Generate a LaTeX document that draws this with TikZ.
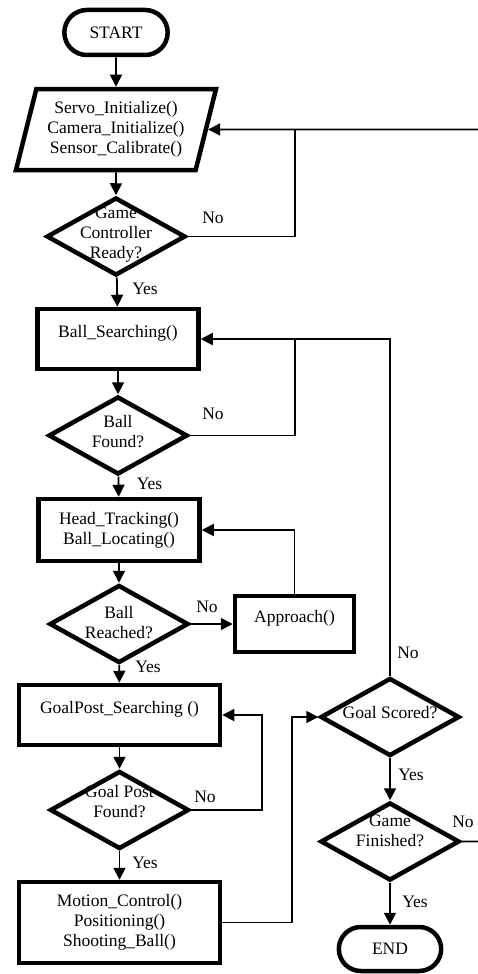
\documentclass[tikz,border=0pt]{standalone}
\usepackage{fontspec}
\setmainfont{Liberation Serif}
\usetikzlibrary{shapes.geometric,shapes.misc,arrows.meta}
\begin{document}
\begin{tikzpicture}[x=1pt,y=-1pt,
  font=\fontsize{17.5}{20}\selectfont,
  term/.style={rounded rectangle, draw=black, line width=4.5pt, minimum width=110pt, minimum height=45pt},
  io/.style={trapezium, trapezium left angle=70, trapezium right angle=110, trapezium stretches body, draw=black, line width=4.5pt, minimum width=200pt, minimum height=81pt, align=center, inner sep=0pt},
  proc/.style={rectangle, draw=black, line width=4.5pt, align=center},
  procup/.style={proc, text depth=16pt},
  decide/.style={diamond, draw=black, line width=4.5pt, inner sep=0pt, minimum width=139pt, minimum height=78pt},
  lbl/.style={align=center, inner sep=0pt},
  wire/.style={draw=black, line width=1.8pt},
  wirearr/.style={wire, -{Triangle[length=12pt,width=12pt]}}]
\useasboundingbox (0,0) rectangle (478,974);
\node [term] (start) at (116,32.5) {START};
\node [io] (init) at (116,129.5) {Servo\_Initialize()\\Camera\_Initialize()\\Sensor\_Calibrate()};
\node [decide, label={[lbl,yshift=2pt]center:Game\\Controller\\Ready?}] (ready) at (116,236.5) {};
\node [procup, minimum width=161pt, minimum height=60pt] (bsearch) at (118,339) {Ball\_Searching()};
\node [decide, label={[lbl,yshift=4pt]center:Ball\\Found?}] (bfound) at (118,435.5) {};
\node [proc, minimum width=161pt, minimum height=62pt] (htrack) at (119,530) {Head\_Tracking()\\Ball\_Locating()};
\node [decide, label={[lbl,yshift=1pt]center:Ball\\Reached?}] (reached) at (119,624) {};
\node [procup, minimum width=119pt, minimum height=56pt] (appr) at (294.5,624) {Approach()};
\node [procup, minimum width=201pt, minimum height=60pt] (gpsearch) at (119.5,715) {GoalPost\_Searching ()};
\node [decide, label={[lbl,yshift=8pt]center:Goal Post\\Found?}] (gpfound) at (119.5,810) {};
\node [proc, minimum width=201pt, minimum height=81pt] (motion) at (119.5,922.5) {Motion\_Control()\\Positioning()\\Shooting\_Ball()};
\node [decide, label={[lbl,yshift=4pt]center:Goal Scored?}] (scored) at (390,717) {};
\node [decide, label={[lbl,yshift=11pt]center:Game\\Finished?}] (fin) at (390,841.5) {};
\node [term, minimum width=109pt, minimum height=44pt] (end) at (390,949) {END};
\node [lbl] (no1) at (213,218) {No};
\node [lbl] (yes1) at (145,289) {Yes};
\node [lbl] (no2) at (213,414) {No};
\node [lbl] (yes2) at (149.5,484) {Yes};
\node [lbl] (no3) at (207,607) {No};
\node [lbl] (yes3) at (148,667) {Yes};
\node [lbl] (no4) at (205,797) {No};
\node [lbl] (yes4) at (145,863) {Yes};
\node [lbl] (no5) at (408,653) {No};
\node [lbl] (yes5) at (411,775) {Yes};
\node [lbl] (no6) at (463,822) {No};
\node [lbl] (yes6) at (415,902) {Yes};
\coordinate (ret1) at (295,129.5);
\coordinate (ret2) at (295,339);
\coordinate (ret3) at (262,715);
\coordinate (ret4) at (292,717);
\coordinate (outer) at (486,129.5);
\draw [wirearr] (start) -- (init);
\draw [wirearr] (init) -- (ready);
\draw [wirearr] (ready) -- (bsearch);
\draw [wirearr] (bsearch) -- (bfound);
\draw [wirearr] (bfound) -- (htrack);
\draw [wirearr] (htrack) -- (reached);
\draw [wirearr] (reached) -- (gpsearch);
\draw [wirearr] (gpsearch) -- (gpfound);
\draw [wirearr] (gpfound) -- (motion);
\draw [wirearr] (scored) -- (fin);
\draw [wirearr] (fin) -- (end);
\draw [wirearr] (reached) -- (appr);
\draw [wire] (ready.east) -| (ret1);
\draw [wire] (bfound.east) -| (ret2);
\draw [wirearr] (appr.north) |- (htrack.east);
\draw [wirearr] (gpfound.east) -| (ret3) -- (gpsearch.east);
\draw [wirearr] (motion.east) -| (ret4) -- (scored.west);
\draw [wirearr] (scored.north) |- (bsearch.east);
\draw [wirearr] (fin.east) -| (outer) -- (init.east);
\end{tikzpicture}
\end{document}
